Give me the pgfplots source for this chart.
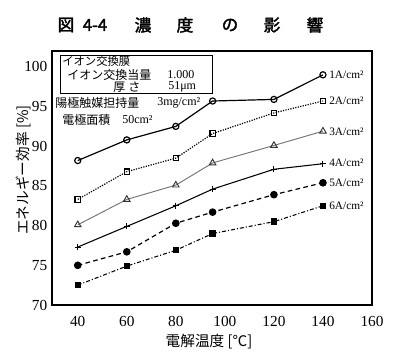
\documentclass[border=0pt]{standalone}
\usepackage{pgfplots}
\pgfplotsset{compat=1.18}
\usepackage{fontspec}
\setmainfont{Liberation Serif}
\newfontfamily\jp{Noto Sans CJK JP}
\newfontfamily\jpb[FakeBold=2]{Noto Sans CJK JP}
\begin{document}
\begin{tikzpicture}
\begin{axis}[
  name=ax, anchor=south west, at={(0,0)},
  scale only axis, width=240pt, height=190.5pt,
  xmin=29.5, xmax=160, ymin=70, ymax=102,
  xtick={40,60,...,160}, ytick={70,75,...,100},
  major tick length=0pt,
  tick label style={font=\fontsize{11.5}{12}\selectfont},
  /pgf/number format/assume math mode=true,
  axis line style={line width=0.9pt},
  xticklabel style={yshift=-5pt},
  clip=false,
]
\addplot[black, line width=0.9pt, mark=o, mark size=2.3pt]
  coordinates {(40,88.2)(60,90.8)(80,92.5)(95,95.7)(120,95.9)(140,99.0)};
\addplot[black, line width=0.9pt, densely dotted, mark=square, mark size=2pt, mark options={solid}]
  coordinates {(40,83.3)(60,86.8)(80,88.5)(95,91.6)(120,94.2)(140,95.7)};
\addplot[black!55, line width=0.7pt, mark=triangle, mark size=2.8pt, mark options={black!80}]
  coordinates {(40,80.1)(60,83.3)(80,85.1)(95,87.9)(120,90.1)(140,91.9)};
\addplot[black, line width=0.8pt, mark=+, mark size=2.3pt]
  coordinates {(40,77.3)(60,79.9)(80,82.5)(95,84.6)(120,87.1)(140,87.8)};
\addplot[black, line width=0.9pt, dash pattern=on 3.5pt off 2.5pt, mark=*, mark size=2.4pt, mark options={solid}]
  coordinates {(40,75.0)(60,76.7)(80,80.3)(95,81.7)(120,83.9)(140,85.4)};
\addplot[black, line width=0.8pt, dash pattern=on 3pt off 1.5pt on 0.8pt off 1.5pt, mark=square*, mark size=2pt, mark options={solid}]
  coordinates {(40,72.5)(60,74.9)(80,76.9)(95,79.0)(120,80.5)(140,82.5)};
\end{axis}
\begin{scope}[x=0.75pt,y=-0.75pt,shift={(-39pt,228.75pt)}]
  % title
  \begin{scope}[every node/.style={font=\jpb\fontsize{12.5}{13}\selectfont, inner sep=0pt}]
    \node at (66,25) {図};
    \node at (95,25) {4-4};
    \node at (143,25) {濃};
    \node at (185,25) {度};
    \node at (230,25) {の};
    \node at (272,25) {影};
    \node at (315,25) {響};
  \end{scope}
  % axis labels
  \node[rotate=90, font=\jp\fontsize{11}{12}\selectfont, inner sep=0pt] at (23,170) {エネルギー効率 [\%]};
  \node[font=\jp\fontsize{11}{12}\selectfont, inner sep=0pt] at (209,342) {電解温度 [℃]};
  % info box
  \draw[line width=0.6pt] (60,55) rectangle (212,93);
  \begin{scope}[every node/.style={anchor=west, inner sep=0pt, font=\fontsize{9}{10}\selectfont}]
    \node[font=\jp\fontsize{8.5}{9}\selectfont] at (62,61) {イオン交換膜};
    \node[font=\jp\fontsize{9}{10}\selectfont] at (67,75) {イオン交換当量};
    \node at (167,75) {1.000};
    \node[font=\jp\fontsize{9}{10}\selectfont] at (113,87) {厚};
    \node[font=\jp\fontsize{9}{10}\selectfont] at (128,87) {さ};
    \node at (168,87) {51μm};
    \node[font=\jp\fontsize{9}{10}\selectfont] at (55,103) {陽極触媒担持量};
    \node at (157,103) {3mg/cm²};
    \node[font=\jp\fontsize{9}{10}\selectfont] at (62,120) {電極面積};
    \node at (122,120) {50cm²};
  \end{scope}
  % series labels
  \begin{scope}[every node/.style={anchor=west, inner sep=0pt, font=\fontsize{8.5}{9}\selectfont}]
    \node at (329,75) {1A/cm²};
    \node at (329,101) {2A/cm²};
    \node at (329,132) {3A/cm²};
    \node at (329,163) {4A/cm²};
    \node at (329,183) {5A/cm²};
    \node at (329,206) {6A/cm²};
  \end{scope}
\end{scope}
\pgfresetboundingbox
\path (-39pt,-39.75pt) rectangle (261pt,228.75pt);
\end{tikzpicture}
\end{document}
